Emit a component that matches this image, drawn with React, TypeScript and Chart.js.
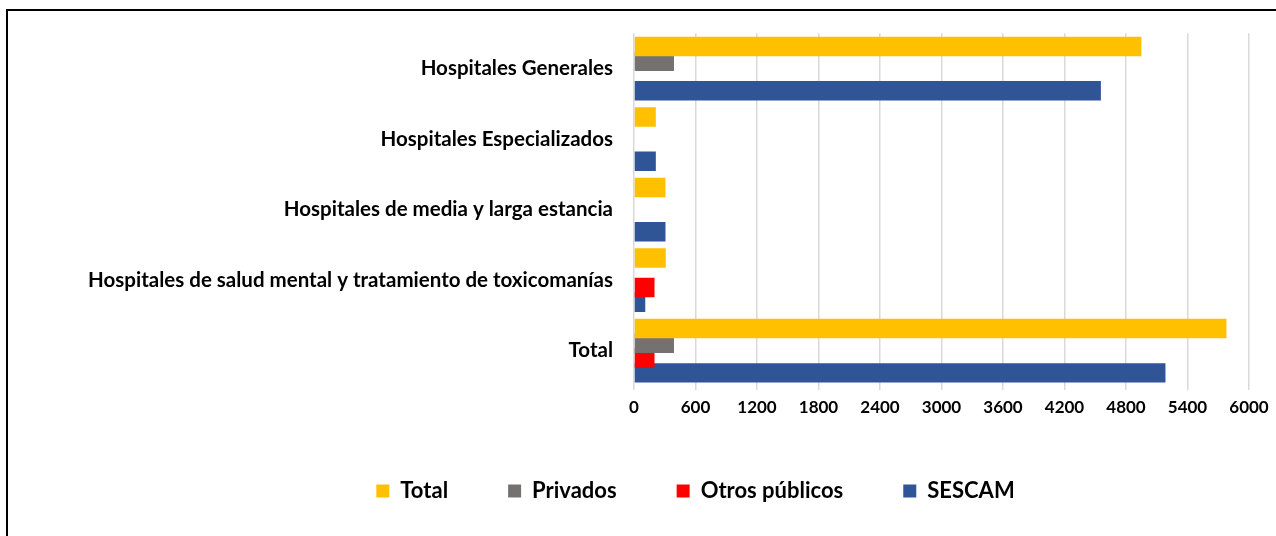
import React, { useEffect, useRef } from 'react';
import { Chart, registerables } from 'chart.js';

Chart.register(...registerables);

const categories = [
  'Hospitales Generales',
  'Hospitales Especializados',
  'Hospitales de media y larga estancia',
  'Hospitales de salud mental y tratamiento de toxicomanías',
  'Total',
];

const seriesNames = ['Total', 'Privados', 'Otros públicos', 'SESCAM'];
const totalValues = [4950, 213, 307, 310, 5780];
const privadosValues = [390, 0, 0, 0, 390];
const otrosPublicosValues = [0, 0, 0, 200, 200];
const sescamValues = [4555, 213, 307, 110, 5185];
const seriesColors = ['#FFC000', '#767171', '#FF0000', '#2F5597'];

const axisMin = 0;
const axisMax = 6000;
const axisStep = 600;

const FONT_FAMILY = 'Lato, "Noto Sans", sans-serif';

const legendShift = {
  id: 'legendShift',
  afterLayout(chart: any) {
    const lg = chart.legend;
    if (!lg) return;
    lg.left = 142;
    lg.width = lg.right - lg.left;
  },
};

export default function App() {
  const ref = useRef<HTMLCanvasElement>(null);

  useEffect(() => {
    if (!ref.current) return;
    const values = [totalValues, privadosValues, otrosPublicosValues, sescamValues];
    const chart = new Chart(ref.current, {
      type: 'bar',
      data: {
        labels: categories,
        datasets: seriesNames.map((name, i) => ({
          label: name,
          data: values[i],
          backgroundColor: seriesColors[i],
          borderWidth: 0,
          categoryPercentage: 0.837,
          barPercentage: 1.32,
        })),
      },
      plugins: [legendShift],
      options: {
        indexAxis: 'y',
        responsive: false,
        animation: false,
        layout: { padding: { left: 60, right: 27, top: 33, bottom: 24 } },
        scales: {
          x: {
            min: axisMin,
            max: axisMax,
            ticks: {
              stepSize: axisStep,
              padding: 7,
              color: '#000',
              font: { family: FONT_FAMILY, size: 17, weight: 'bold' },
              callback: (v: any) => String(v),
            },
            grid: { color: '#d9d9d9', lineWidth: 1.5, drawTicks: true, tickLength: 4 },
            border: { display: false },
            afterFit: (s: any) => {
              s.height = 34;
            },
          },
          y: {
            grid: { display: false, drawTicks: false },
            border: { display: false },
            ticks: {
              padding: 21,
              color: '#000',
              font: { family: FONT_FAMILY, size: 20.5, weight: 'bold' },
            },
            afterFit: (s: any) => {
              s.width = 574;
            },
          },
        },
        plugins: {
          legend: {
            position: 'bottom',
            labels: {
              boxWidth: 13,
              boxHeight: 13,
              padding: 60,
              color: '#000',
              font: { family: FONT_FAMILY, size: 22, weight: 'bold' },
            },
          },
          tooltip: { enabled: false },
        },
      },
    });
    return () => chart.destroy();
  }, []);

  return (
    <div style={{ position: 'fixed', left: 0, top: 0, width: 1276, height: 536, background: '#fff', overflow: 'hidden' }}>
      <div
        style={{
          position: 'absolute',
          left: 6,
          top: 9,
          width: 1320,
          height: 600,
          borderLeft: '2px solid #000',
          borderTop: '2px solid #000',
        }}
      />
      <canvas ref={ref} width={1276} height={536} style={{ position: 'absolute', left: 0, top: 0 }} />
    </div>
  );
}
